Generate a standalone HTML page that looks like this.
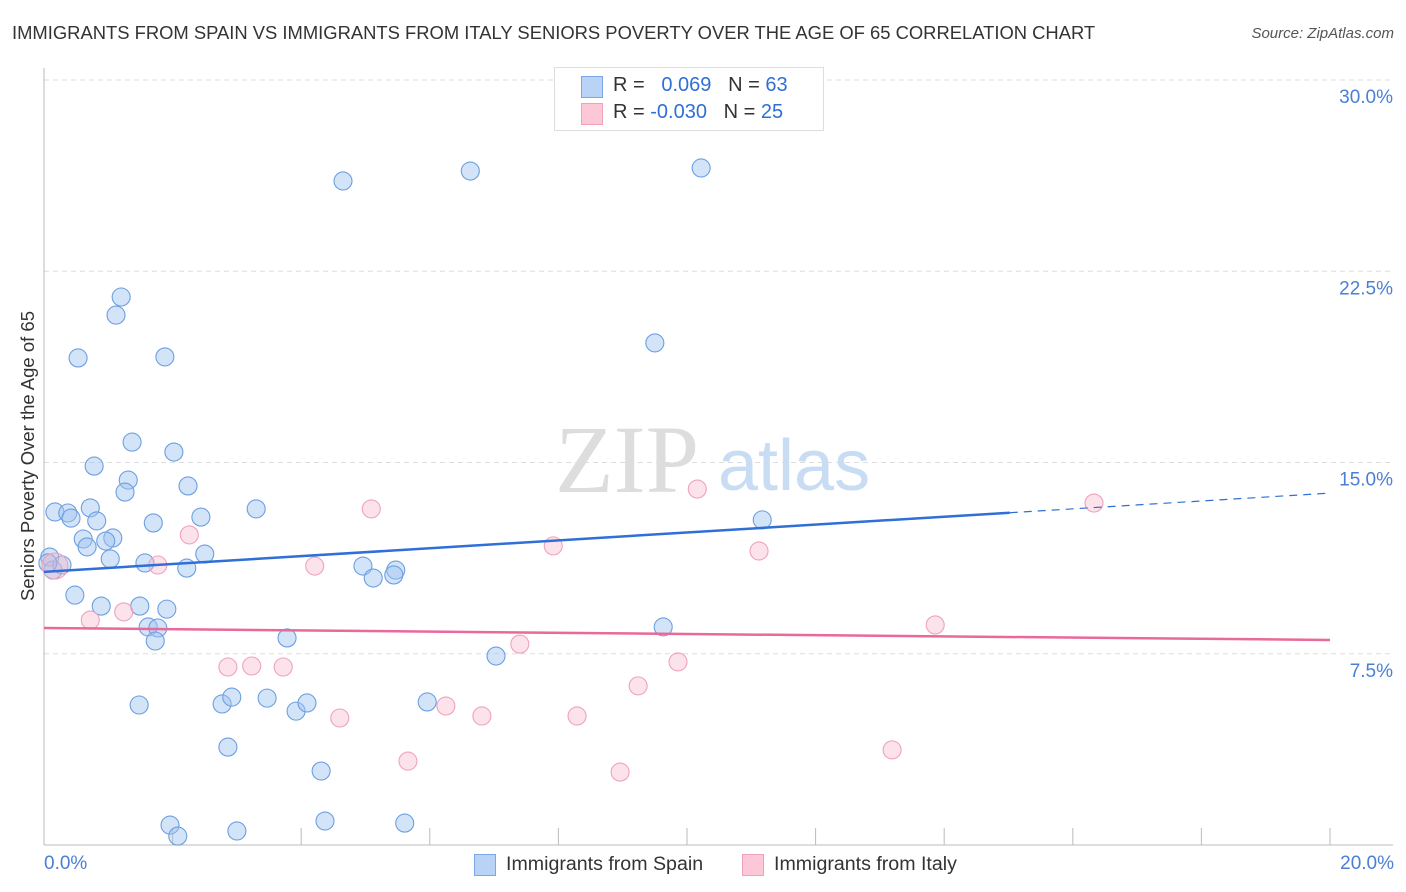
<!DOCTYPE html>
<html><head><meta charset="utf-8"><style>
body{margin:0;background:#fff;font-family:"Liberation Sans",sans-serif}
#c{position:relative;width:1406px;height:892px;overflow:hidden}
.t{position:absolute;white-space:nowrap}
</style></head><body>
<div id="c">
<div class="t" style="left:12px;top:22px;font-size:18.4px;color:#333">IMMIGRANTS FROM SPAIN VS IMMIGRANTS FROM ITALY SENIORS POVERTY OVER THE AGE OF 65 CORRELATION CHART</div>
<div class="t" style="right:12px;top:25px;font-size:15px;color:#555;font-style:italic">Source: ZipAtlas.com</div>
<svg id="s" width="1406" height="892" style="position:absolute;left:0;top:0"></svg>
</div>
<script>
const yTicks=[7.5,15,22.5,30];
const yTickLabels=["7.5%","15.0%","22.5%","30.0%"];
const xTicks=[0,2,4,6,8,10,12,14,16,18,20];
const spainX=[4.65,6.63,10.22,1.20,1.12,0.53,1.88,9.50,1.37,2.02,0.78,1.31,1.26,2.24,0.17,0.37,0.42,0.72,0.82,1.70,2.44,3.30,0.61,0.67,1.07,0.96,1.03,2.50,1.57,2.22,0.09,0.14,0.28,4.96,5.12,5.47,5.44,11.17,0.48,0.89,1.49,1.91,1.62,1.77,1.73,3.78,7.03,9.63,1.48,2.77,2.92,3.47,3.92,4.09,5.96,2.86,4.31,1.96,2.08,3.00,4.37,5.61,0.06];
const spainY=[26.04,26.43,26.55,21.49,20.78,19.10,19.14,19.69,15.80,15.41,14.86,14.31,13.84,14.08,13.06,13.02,12.82,13.22,12.71,12.63,12.86,13.18,12.00,11.69,12.04,11.92,11.22,11.41,11.06,10.86,11.29,10.78,10.98,10.94,10.47,10.78,10.59,12.75,9.80,9.37,9.37,9.25,8.55,8.51,8.00,8.12,7.41,8.55,5.49,5.53,5.80,5.76,5.25,5.57,5.61,3.84,2.90,0.78,0.35,0.55,0.94,0.86,11.06];
const italyX=[0.17,0.72,1.24,1.77,2.26,2.86,3.23,3.72,4.21,5.09,4.60,5.66,6.25,6.81,7.40,7.92,8.29,8.96,9.24,9.86,10.16,11.12,13.19,13.86,16.33];
const italyY=[10.94,8.82,9.14,10.98,12.16,6.98,7.02,6.98,10.94,13.18,4.98,3.29,5.45,5.06,7.88,11.73,5.06,2.86,6.24,7.18,13.96,11.53,3.73,8.63,13.41];
const spainTrend=[10.71,13.80];
const italyTrend=[8.51,8.04];
const spainSolidEnd=15.02;
const X0=44,X1=1330,Y0=845,YT=80;
const sx=v=>X0+(X1-X0)*v/20;
const sy=v=>Y0-(Y0-YT)*v/30;
const s=document.getElementById('s');
function mk(tag,at){const e=document.createElementNS('http://www.w3.org/2000/svg',tag);for(const k in at)e.setAttribute(k,at[k]);s.appendChild(e);return e;}
yTicks.forEach((v,i)=>{
 const g=mk('line',{x1:X0,x2:1393,y1:sy(v),y2:sy(v),stroke:'#ddd','stroke-dasharray':'5,4'});
 
 
 const t=mk('text',{x:1393,y:sy(v)+23,'text-anchor':'end','font-size':19,fill:'#4a7fd4','font-family':'Liberation Sans, sans-serif'});
 t.textContent=yTickLabels[i];
 
 
});
let a=mk('line',{x1:X0,x2:X0,y1:68,y2:Y0,stroke:'#bbb'});


a=mk('line',{x1:X0,x2:1393,y1:Y0,y2:Y0,stroke:'#bbb'});


xTicks.forEach(v=>{
 const l=mk('line',{x1:sx(v),x2:sx(v),y1:Y0,y2:828,stroke:'#bbb'});
 
 
});
let w=mk('text',{x:555,y:492,'font-size':96,fill:'#ddd','font-family':'Liberation Serif, serif'});w.textContent='ZIP';


w=mk('text',{x:718,y:490,'font-size':72,fill:'#c8dcf3','font-family':'Liberation Sans, sans-serif'});w.textContent='atlas';


spainX.forEach((v,i)=>{
 const c=mk('circle',{cx:sx(v),cy:sy(spainY[i]),r:9,fill:'rgba(160,196,240,0.45)',stroke:'#6b9fe2','stroke-width':1.1});
 
 
});
italyX.forEach((v,i)=>{
 const c=mk('circle',{cx:sx(v),cy:sy(italyY[i]),r:i==0?13:9,fill:'rgba(246,178,200,0.38)',stroke:'#f0a2bd','stroke-width':1.1});
 
 
});
const by=x=>spainTrend[0]+(spainTrend[1]-spainTrend[0])*x/20;
let L=mk('line',{x1:sx(0),y1:sy(by(0)),x2:sx(spainSolidEnd),y2:sy(by(spainSolidEnd)),stroke:'#2f6fd6','stroke-width':2.5});


L=mk('line',{x1:sx(spainSolidEnd),y1:sy(by(spainSolidEnd)),x2:sx(20),y2:sy(by(20)),stroke:'#2f6fd6','stroke-width':1.2,'stroke-dasharray':'8,6'});


L=mk('line',{x1:sx(0),y1:sy(italyTrend[0]),x2:sx(20),y2:sy(italyTrend[1]),stroke:'#e8699a','stroke-width':2.5});


</script>
<div class="t" style="left:28px;top:456px;font-size:18.5px;color:#333;transform:translate(-50%,-50%) rotate(-90deg)">Seniors Poverty Over the Age of 65</div>
<div class="t" style="left:44px;top:853px;font-size:19px;color:#4a7fd4">0.0%</div>
<div class="t" style="right:12px;top:853px;font-size:19px;color:#4a7fd4">20.0%</div>
<div style="position:absolute;left:554px;top:67px;width:268px;height:62px;border:1px solid #ddd;background:#fff;font-size:20px;color:#333">
 <div style="position:absolute;left:26px;top:8px;width:20px;height:20px;background:#b8d3f5;border:1px solid #7aa8e6"></div>
 <div class="t" style="left:58px;top:6px">R = &nbsp;&nbsp;<span style="color:#2f6fd6">0.069</span> &nbsp;&nbsp;N = <span style="color:#2f6fd6">63</span></div>
 <div style="position:absolute;left:26px;top:35px;width:20px;height:20px;background:#fcc8d8;border:1px solid #f0a2bd"></div>
 <div class="t" style="left:58px;top:33px">R = <span style="color:#2f6fd6">-0.030</span> &nbsp;&nbsp;N = <span style="color:#2f6fd6">25</span></div>
</div>
<div style="position:absolute;left:474px;top:853px;font-size:19.6px;color:#333">
 <div style="position:absolute;left:0;top:1px;width:20px;height:20px;background:#b8d3f5;border:1px solid #7aa8e6"></div>
 <div class="t" style="left:32px;top:0">Immigrants from Spain</div></div>
<div style="position:absolute;left:742px;top:853px;font-size:19.6px;color:#333">
 <div style="position:absolute;left:0;top:1px;width:20px;height:20px;background:#fcc8d8;border:1px solid #f0a2bd"></div>
 <div class="t" style="left:32px;top:0">Immigrants from Italy</div></div>
</body></html>
